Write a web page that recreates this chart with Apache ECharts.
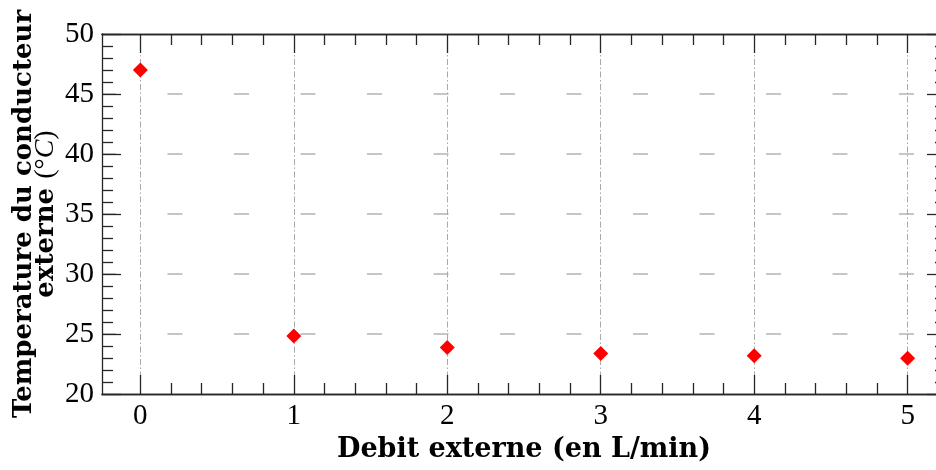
<!DOCTYPE html>
<html><head><meta charset="utf-8">
<script src="https://cdn.jsdelivr.net/npm/echarts@6/dist/echarts.min.js"></script>
<style>html,body{margin:0;padding:0;background:#fff}#c{width:936px;height:470px}</style>
</head><body><div id="c"></div>
<script>
const debit = [0, 1, 2, 3, 4, 5];
const temperature = [47.0, 24.83, 23.87, 23.37, 23.18, 22.98];
const xTicks = [0, 1, 2, 3, 4, 5];
const yTicks = [20, 25, 30, 35, 40, 45, 50];
const xTitle = 'Debit externe (en L/min)';
const yTitleLine1 = 'Temperature du conducteur';
const yTitleLine2 = 'externe';
const yUnitPre = '(°';
const yUnitVar = 'C';
const yUnitPost = ')';

const xMinor = [];
for (let i = 0; i < xTicks.length - 1; i++) {
  for (let j = 1; j < 5; j++) xMinor.push(+(xTicks[i] + j * (xTicks[i + 1] - xTicks[i]) / 5).toFixed(6));
}

const AX = '#262626';
const lineW = 1.3;
const XMIN = -0.25, XMAX = 5.25;
const TICK_FONT = 'Liberation Serif';
const TITLE_FONT = 'DejaVu Serif';

function xAxisDef(pos, major, withLabels) {
  return {
    type: 'value', position: pos, min: XMIN, max: XMAX,
    axisLine: { show: true, onZero: false, lineStyle: { color: AX, width: lineW } },
    axisTick: { show: true, inside: true, length: major ? 19 : 11, customValues: major ? xTicks : xMinor, lineStyle: { color: AX, width: lineW } },
    axisLabel: withLabels ? { show: true, customValues: xTicks, fontFamily: TICK_FONT, fontSize: 29, color: '#000', margin: 8 } : { show: false },
    splitLine: withLabels ? { show: true, showMinLine: true, showMaxLine: true, lineStyle: { color: '#a8a8a8', width: 1, type: [6, 2.5, 1.5, 2.5] } } : { show: false },
    minorTick: { show: false }, minorSplitLine: { show: false },
    name: withLabels ? xTitle : '',
    nameLocation: 'middle', nameGap: 42, nameMoveOverlap: false,
    nameTextStyle: { fontFamily: TITLE_FONT, fontSize: 27, fontWeight: 'bold', color: '#000' }
  };
}

function yAxisDef(pos, withLabels) {
  return {
    type: 'value', position: pos, min: yTicks[0], max: yTicks[yTicks.length - 1], interval: yTicks[1] - yTicks[0],
    axisLine: { show: true, onZero: false, lineStyle: { color: AX, width: lineW } },
    axisTick: { show: true, inside: true, length: 19, lineStyle: { color: AX, width: lineW } },
    minorTick: { show: true, splitNumber: 5, length: 11, lineStyle: { color: AX, width: lineW } },
    axisLabel: withLabels ? { show: true, fontFamily: TICK_FONT, fontSize: 29, color: '#000', margin: 8 } : { show: false },
    splitLine: withLabels ? { show: true, showMinLine: false, showMaxLine: false, lineStyle: { color: '#b4b4b4', width: 1.5, type: [15, 51.5], dashOffset: 1 } } : { show: false },
    name: withLabels ? '{b|' + yTitleLine1 + '}\n{b|' + yTitleLine2 + '} {r|' + yUnitPre + '}{i|' + yUnitVar + '}{r|' + yUnitPost + '}' : '',
    nameLocation: 'middle', nameGap: 45, nameRotate: 90, nameMoveOverlap: false,
    nameTextStyle: {
      fontFamily: TITLE_FONT, fontSize: 26, fontWeight: 'bold', color: '#000', lineHeight: 22,
      rich: {
        b: { fontFamily: TITLE_FONT, fontSize: 26, fontWeight: 'bold', color: '#000', lineHeight: 22 },
        r: { fontFamily: TICK_FONT, fontSize: 28, fontWeight: 'normal', color: '#000', lineHeight: 22 },
        i: { fontFamily: TICK_FONT, fontSize: 28, fontWeight: 'normal', fontStyle: 'italic', color: '#000', lineHeight: 22 }
      }
    }
  };
}

const chart = echarts.init(document.getElementById('c'), null, { renderer: 'canvas' });
chart.setOption({
  animation: false,
  backgroundColor: '#fff',
  grid: { left: 102, top: 34, width: 844, height: 360, containLabel: false, outerBoundsMode: 'none' },
  xAxis: [xAxisDef('bottom', true, true), xAxisDef('bottom', false, false), xAxisDef('top', true, false), xAxisDef('top', false, false)],
  yAxis: [yAxisDef('left', true), yAxisDef('right', false)],
  series: [{
    type: 'scatter', xAxisIndex: 0, yAxisIndex: 0,
    symbol: 'diamond', symbolSize: 15,
    itemStyle: { color: '#ff0000', opacity: 1 },
    emphasis: { disabled: true },
    data: debit.map((d, i) => [d, temperature[i]]),
    z: 10
  }]
});
</script></body></html>
